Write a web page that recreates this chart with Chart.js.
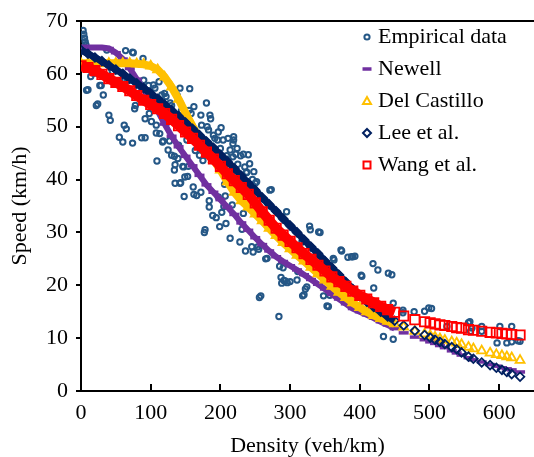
<!DOCTYPE html>
<html>
<head>
<meta charset="utf-8">
<script src="https://cdn.jsdelivr.net/npm/chart.js@4.4.1/dist/chart.umd.min.js"></script>
<style>
  html, body { margin: 0; padding: 0; background: #fff; }
  #wrap { width: 534px; height: 457px; }
</style>
</head>
<body>
<div id="wrap"><canvas id="chart" width="534" height="457"></canvas></div>
<script>
// ---- data ----
const seriesNames = ['Empirical data', 'Newell', 'Del Castillo', 'Lee et al.', 'Wang et al.'];
const xTicks = [0, 100, 200, 300, 400, 500, 600];
const yTicks = [0, 10, 20, 30, 40, 50, 60, 70];

// observed (density veh/km, speed km/h)
const empiricalPoints = [
  [3,68.2],[4,67.5],[5,66.8],[6,66.1],[7,65.5],[3,64.5],[8,56.9],[10,57],[14,59.5],[18,60.1],
  [22,54],[24,54.3],[27,57.8],[29,57.8],[32,56],[37,64.5],[40,52.2],[42,51.2],[45,60.5],[55,48],
  [56,58.6],[60,47.1],[62,50.3],[64,64.4],[65,49.6],[66,59.2],[68,58.8],[74,64.1],[74,46.9],[75,64],
  [77,53.4],[78,54],[80,56.9],[87,47.9],[89,62.9],[90,58.8],[92,47.9],[92,51.5],[97,57.8],[98,52.5],
  [101,51],[104,57.9],[106,57.3],[108,50.3],[108,48.8],[109,43.5],[111,55.3],[112,58.5],[113,48.7],[116,56],
  [117,47.1],[118,47.3],[120,56.3],[122,55.7],[125,45.6],[127,47.3],[128,54.5],[130,44.6],[130,54],[134,44.4],
  [134,41.8],[135,42.8],[135,39.3],[138,55.9],[139,44],[140,46.5],[142,57.3],[142,39.3],[143,39.4],[144,53],
  [146,42.5],[147,42.4],[148,36.8],[149,40.5],[150,51.8],[152,47.5],[153,40.6],[154,42.5],[155,53.1],[156,57.2],
  [158,52.5],[161,38.6],[162,37.2],[162,53.8],[163,49.5],[164,45.5],[166,37],[168,48.4],[170,44.6],[172,37.6],
  [172,52.2],[173,50.3],[175,43.6],[177,30],[178,30.5],[180,54.5],[181,50],[183,49.4],[184,36],[184,34.8],
  [185,52.2],[186,51.5],[187,43.9],[189,33.2],[190,48.4],[192,44.9],[192,47.8],[194,32.8],[196,47.5],[197,36.7],
  [197,49],[199,31.1],[199,44.5],[200,45.9],[201,49.8],[202,33.8],[204,47.5],[205,34.9],[206,39.1],[207,36.9],
  [208,43.9],[208,31.7],[209,44.5],[210,39.8],[211,47.8],[214,45.6],[214,28.9],[216,40.5],[217,35.2],[218,46.8],
  [218,44.3],[219,48.1],[219,47.5],[221,41.2],[222,44.8],[224,45.9],[225,42.9],[226,40.2],[228,28.2],[229,44.5],
  [231,30.6],[232,39.3],[233,33.6],[233,44.8],[235,42.4],[236,26.5],[237,41.3],[238,41.4],[240,44.7],[241,39.2],
  [242,43],[244,38.9],[245,27.3],[246,40],[247,26.3],[248,41.5],[250,39.3],[252,39.6],[254,27.3],[255,26.8],
  [256,17.7],[258,18],[264,36.1],[265,25],[267,25.1],[271,38],[273,38.1],[284,14.1],[285,23.6],[287,21.5],
  [288,20.4],[290,23.3],[291,20.9],[293,20.8],[295,33.9],[296,20.5],[300,20.7],[310,21],[311,22.6],[317,28.2],
  [318,18],[320,18.2],[322,19.3],[324,19.7],[328,31.2],[329,30.5],[341,30.1],[343,30],[348,18],[353,16.1],
  [355,16],[357,18.1],[362,25.1],[363,24.8],[373,26.7],[374,26.5],[383,25.3],[388,25.4],[390,25.4],[393,25.5],
  [402,21.9],[403,21.7],[419,24.1],[420,19.5],[426,22.9],[434,10.3],[441,22.3],[446,22],[448,16.6],[448,9.8],
  [462,15.3],[462,14.8],[478,15],[493,15.1],[499,15.7],[503,15.6],[525,12.2],[556,12.9],[558,13.1],[559,11.3],
  [561,11.9],[575,11.3],[575,12.2],[597,9.1],[601,12.2],[611,9.1],[618,12.2],[618,9.3],[627,9.5],[630,9.4]
];

// model predictions, all at the same densities
const modelDensity = [
  0,10,20,30,40,50,60,70,80,90,100,110,120,130,140,150,160,170,180,190,
  200,210,220,230,240,250,260,270,280,290,300,310,320,330,340,350,360,370,380,390,
  400,410,420,430,440,
  450,463,479,493,501,508,515,522,532,539,546,556,563,575,587,596,604,611,618,630
];
const newellSpeed = [
  65,65,65,65,64.8,64,62.8,61,59,57,55,53,50.5,48.2,46.2,44.4,42.6,40.8,39,37.6,
  36.2,34.8,33.4,31.8,30.4,29,27.7,26.5,25.4,24.5,23.7,22.9,22,21.1,20.2,19.3,18.3,17.4,16.5,15.6,
  15,14.4,13.8,13.1,12.5,
  11.8,11.0,10.2,9.7,9.3,9.0,8.6,8.2,7.6,7.2,6.8,6.3,5.9,5.5,5.0,4.7,4.4,4.2,4.0,3.6
];
const delCastilloSpeed = [
  62,62,62,62,62,62,62,62,61.9,61.8,61.5,60.8,59.4,57.5,55.2,52.6,50.1,47.8,45.6,43.8,
  41.8,39.6,37.6,36,34.8,33.5,32.2,30.8,29.4,28.1,26.9,25.7,24.6,23.4,22.2,21,19.8,18.7,17.7,16.7,
  15.8,15,14.3,13.7,13.2,
  12.7,12.1,11.3,10.8,10.5,10.2,9.9,9.6,9.3,9.1,8.8,8.3,8.0,7.6,7.2,6.9,6.7,6.5,6.3,5.8
];
const leeSpeed = [
  64.5,63.8,63.1,62.4,61.6,60.8,60,59.1,58.2,57.3,56.3,55.3,54.2,53.1,52,50.8,49.6,48.4,47.2,46,
  44.7,43.4,42.1,40.7,39.3,38,36.6,35.3,34,32.6,31.3,30,28.6,27.3,26,24.6,23.3,22,20.6,19.3,
  18,16.9,15.9,15,14.1,
  13.3,12.4,11.4,10.6,10.1,9.7,9.3,8.9,8.3,7.9,7.3,6.5,6.1,5.4,4.9,4.4,4.0,3.6,3.2,2.7
];
const wangSpeed = [
  61.5,61.2,60.6,59.9,59.1,58.4,57.6,56.8,55.9,55,54.2,53.4,52.5,51.4,50.2,49,47.8,46.5,45.2,43.9,
  42.5,41.1,39.8,38.5,37.2,35.6,33.9,32.3,30.8,29.5,28.3,27.1,26,24.9,23.8,22.7,21.6,20.7,19.8,18.9,
  18.1,17.4,16.7,16,15.4,
  14.9,14.2,13.5,13.1,12.9,12.7,12.5,12.4,12.2,12.0,11.9,11.6,11.5,11.3,11.1,11.0,10.9,10.8,10.7,10.6
];

// ---- chart ----
const FONT = "'Liberation Serif', 'Times New Roman', serif";
Chart.defaults.font.family = FONT;
Chart.defaults.font.size = 22;
Chart.defaults.color = '#000';

const colors = ['#255786', '#7030a0', '#ffc000', '#002060', '#ff0000'];
const denseLimit = 445; // the thick band stops here, beyond it only markers

function modelSet(name, speeds, color, style, radius, lineWidth, order) {
  return {
    label: name,
    data: modelDensity.map((d, i) => ({x: d, y: speeds[i]})),
    showLine: true,
    borderWidth: lineWidth,
    borderColor: color,
    segment: {
      borderColor: ctx => ctx.p0.parsed.x < denseLimit ? color : 'rgba(0,0,0,0)'
    },
    pointStyle: style,
    pointRadius: radius,
    pointBorderWidth: style === 'line' ? 3.5 : 1.8,
    pointBorderColor: color,
    pointBackgroundColor: 'rgba(0,0,0,0)',
    order: order
  };
}

function drawMarker(ctx, style, x, y, color) {
  ctx.save();
  ctx.strokeStyle = color;
  ctx.lineWidth = 2;
  ctx.beginPath();
  if (style === 'circle') ctx.arc(x, y, 2.6, 0, Math.PI * 2);
  if (style === 'line') { ctx.lineWidth = 3.5; ctx.moveTo(x - 4.5, y); ctx.lineTo(x + 4.5, y); }
  if (style === 'triangle') { ctx.moveTo(x, y - 4); ctx.lineTo(x + 4, y + 3); ctx.lineTo(x - 4, y + 3); ctx.closePath(); }
  if (style === 'rectRot') { ctx.moveTo(x, y - 4); ctx.lineTo(x + 4, y); ctx.lineTo(x, y + 4); ctx.lineTo(x - 4, y); ctx.closePath(); }
  if (style === 'rect') ctx.rect(x - 3.5, y - 3.5, 7, 7);
  ctx.stroke();
  ctx.restore();
}

const framePlugin = {
  id: 'frame',
  afterDraw(chart) {
    const {ctx, chartArea: a, scales} = chart;
    const xs = scales.x;
    ctx.save();
    ctx.fillStyle = '#000000';
    // top frame line
    ctx.fillRect(Math.round(a.left) - 1, Math.round(a.top) - 1, chart.width - Math.round(a.left) + 1, 2);
    // x ticks point into the plot
    xTicks.forEach(v => {
      if (v === 0) return;
      const px = Math.round(xs.getPixelForValue(v));
      ctx.fillRect(px - 1, Math.round(a.bottom) - 7, 2, 7);
    });
    ctx.restore();

    // legend
    const styles = ['circle', 'line', 'triangle', 'rectRot', 'rect'];
    ctx.save();
    ctx.font = '22px ' + FONT;
    ctx.fillStyle = '#000';
    ctx.textBaseline = 'middle';
    ctx.textAlign = 'left';
    seriesNames.forEach((name, i) => {
      const y = a.top + 16 + i * 32;
      drawMarker(ctx, styles[i], a.left + 286, y, colors[i]);
      ctx.fillText(name, a.left + 297, y);
    });
    ctx.restore();
  }
};

new Chart(document.getElementById('chart'), {
  type: 'scatter',
  data: {
    datasets: [
      {
        label: seriesNames[0],
        data: empiricalPoints.map(p => ({x: p[0], y: p[1]})),
        pointStyle: 'circle',
        pointRadius: 2.7,
        pointBorderWidth: 2,
        pointBorderColor: colors[0],
        pointBackgroundColor: 'rgba(0,0,0,0)',
        order: 5
      },
      modelSet(seriesNames[1], newellSpeed, colors[1], 'line', 5, 6, 4),
      modelSet(seriesNames[2], delCastilloSpeed, colors[2], 'triangle', 5.2, 8, 3),
      modelSet(seriesNames[3], leeSpeed, colors[3], 'rectRot', 4.3, 7, 2),
      modelSet(seriesNames[4], wangSpeed, colors[4], 'rect', 6.6, 10, 1)
    ]
  },
  options: {
    responsive: false,
    animation: false,
    events: [],
    layout: {autoPadding: false, padding: {left: 0, top: 21, right: 0, bottom: 0}},
    plugins: {
      legend: {display: false},
      tooltip: {enabled: false}
    },
    scales: {
      x: {
        type: 'linear',
        min: 0,
        max: 650,
        afterBuildTicks: s => { s.ticks = xTicks.map(v => ({value: v})); },
        afterFit: s => { s.height = 66; s.paddingLeft = 0; s.paddingRight = 0; },
        ticks: {padding: 9, font: {size: 22}},
        grid: {display: false, drawTicks: false},
        border: {display: true, color: '#000', width: 2},
        title: {
          display: true,
          text: 'Density (veh/km)',
          font: {size: 22, lineHeight: 1},
          padding: {top: 0, bottom: 0}
        }
      },
      y: {
        min: 0,
        max: 70,
        afterBuildTicks: s => { s.ticks = yTicks.map(v => ({value: v})); },
        afterFit: s => { s.width = 81; s.paddingTop = 0; s.paddingBottom = 0; },
        ticks: {padding: 8, font: {size: 22}},
        grid: {drawOnChartArea: false, drawTicks: true, tickLength: 5, color: '#000', lineWidth: 2},
        border: {display: true, color: '#000', width: 2},
        title: {
          display: true,
          text: 'Speed (km/h)',
          font: {size: 22, lineHeight: 1},
          padding: {top: 9, bottom: 0}
        }
      }
    }
  },
  plugins: [framePlugin]
});
</script>
</body>
</html>
